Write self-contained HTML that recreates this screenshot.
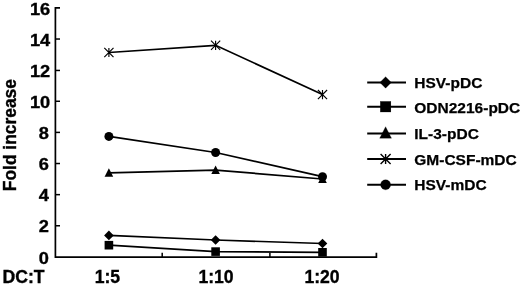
<!DOCTYPE html>
<html><head><meta charset="utf-8"><title>chart</title>
<style>html,body{margin:0;padding:0;background:#fff}body{width:520px;height:286px;position:relative;overflow:hidden}</style></head>
<body>
<svg width="520" height="286" viewBox="0 0 520 286" style="position:absolute;left:0;top:0">
<path d="M60.0,7.9H55.4V257.2H376.4V252.7" stroke="#000" stroke-width="1.7" fill="none" stroke-linejoin="miter"/>
<path d="M55.4,225.77h4.6" stroke="#000" stroke-width="1.5"/>
<path d="M55.4,194.65h4.6" stroke="#000" stroke-width="1.5"/>
<path d="M55.4,163.52h4.6" stroke="#000" stroke-width="1.5"/>
<path d="M55.4,132.40h4.6" stroke="#000" stroke-width="1.5"/>
<path d="M55.4,101.28h4.6" stroke="#000" stroke-width="1.5"/>
<path d="M55.4,70.45h4.6" stroke="#000" stroke-width="1.5"/>
<path d="M55.4,39.03h4.6" stroke="#000" stroke-width="1.5"/>
<path d="M162.2,257.2v-4.5" stroke="#000" stroke-width="1.5"/>
<path d="M269.9,257.2v-4.5" stroke="#000" stroke-width="1.5"/>
<polyline points="108.9,52.5 215.6,45.3 322.5,94.6" stroke="#000" stroke-width="1.7" fill="none"/>
<path d="M104.30000000000001,47.9L113.5,57.1M104.30000000000001,57.1L113.5,47.9M108.9,47.9L108.9,57.1" stroke="#000" stroke-width="1.15" fill="none"/>
<path d="M211.0,40.699999999999996L220.2,49.9M211.0,49.9L220.2,40.699999999999996M215.6,40.699999999999996L215.6,49.9" stroke="#000" stroke-width="1.15" fill="none"/>
<path d="M317.9,90.0L327.1,99.19999999999999M317.9,99.19999999999999L327.1,90.0M322.5,90.0L322.5,99.19999999999999" stroke="#000" stroke-width="1.15" fill="none"/>
<polyline points="108.9,136.4 215.6,152.5 322.5,176.7" stroke="#000" stroke-width="1.7" fill="none"/>
<circle cx="108.9" cy="136.4" r="4.5" fill="#000"/>
<circle cx="215.6" cy="152.5" r="4.5" fill="#000"/>
<circle cx="322.5" cy="176.7" r="4.5" fill="#000"/>
<polyline points="108.9,172.8 215.6,170.1 322.5,179.0" stroke="#000" stroke-width="1.7" fill="none"/>
<path d="M108.9,168.20000000000002L113.2,176.8L104.60000000000001,176.8Z" fill="#000"/>
<path d="M215.6,165.5L219.9,174.1L211.29999999999998,174.1Z" fill="#000"/>
<path d="M322.5,174.4L326.8,183.0L318.2,183.0Z" fill="#000"/>
<polyline points="108.9,235.4 215.6,240.0 322.5,243.5" stroke="#000" stroke-width="1.7" fill="none"/>
<path d="M108.9,230.6L113.7,235.4L108.9,240.20000000000002L104.10000000000001,235.4Z" fill="#000"/>
<path d="M215.6,235.2L220.4,240.0L215.6,244.8L210.79999999999998,240.0Z" fill="#000"/>
<path d="M322.5,238.7L327.3,243.5L322.5,248.3L317.7,243.5Z" fill="#000"/>
<polyline points="108.9,245.2 215.6,251.6 322.5,252.3" stroke="#000" stroke-width="1.7" fill="none"/>
<rect x="104.60000000000001" y="240.89999999999998" width="8.6" height="8.6" fill="#000"/>
<rect x="211.29999999999998" y="247.29999999999998" width="8.6" height="8.6" fill="#000"/>
<rect x="318.2" y="248.0" width="8.6" height="8.6" fill="#000"/>
<g font-family="Liberation Sans, Arial, sans-serif" font-weight="bold" font-size="17.6" fill="#000" stroke="#000" stroke-width="0.35">
<text transform="translate(49.0,263.60) scale(1.06,1)" text-anchor="end" font-size="17.2">0</text>
<text transform="translate(49.0,232.47) scale(1.06,1)" text-anchor="end" font-size="17.2">2</text>
<text transform="translate(49.0,201.35) scale(1.06,1)" text-anchor="end" font-size="17.2">4</text>
<text transform="translate(49.0,170.22) scale(1.06,1)" text-anchor="end" font-size="17.2">6</text>
<text transform="translate(49.0,139.10) scale(1.06,1)" text-anchor="end" font-size="17.2">8</text>
<text transform="translate(50.2,107.98) scale(1.06,1)" text-anchor="end" font-size="17.2">10</text>
<text transform="translate(50.2,77.45) scale(1.06,1)" text-anchor="end" font-size="17.2">12</text>
<text transform="translate(50.2,45.73) scale(1.06,1)" text-anchor="end" font-size="17.2">14</text>
<text transform="translate(50.2,14.60) scale(1.06,1)" text-anchor="end" font-size="17.2">16</text>
<text x="2.6" y="283.4">DC:T</text>
<text x="107.4" y="283.4" text-anchor="middle">1:5</text>
<text x="216" y="283.4" text-anchor="middle">1:10</text>
<text x="322" y="283.4" text-anchor="middle">1:20</text>
<text transform="translate(16.0,191.2) rotate(-90) scale(1,1.1)" font-size="17.4">Fold increase</text>
</g>
<g font-family="Liberation Sans, Arial, sans-serif" font-weight="bold" font-size="15.5" fill="#000" stroke="#000" stroke-width="0.25">
<path d="M367.2,82.45H406" stroke="#000" stroke-width="2"/>
<path d="M385.6,76.75L391.3,82.45L385.6,88.15L379.90000000000003,82.45Z" fill="#000"/>
<text x="414.3" y="88">HSV-pDC</text>
<path d="M367.2,106.7H406" stroke="#000" stroke-width="2"/>
<rect x="380.3" y="101.4" width="10.6" height="10.6" fill="#000"/>
<text x="414.3" y="113.4">ODN2216-pDC</text>
<path d="M367.2,133.6H406" stroke="#000" stroke-width="2"/>
<path d="M385.6,126.69999999999999L391.5,138.2L379.70000000000005,138.2Z" fill="#000"/>
<text x="414.3" y="139">IL-3-pDC</text>
<path d="M367.2,159.0H406" stroke="#000" stroke-width="2"/>
<path d="M380.6,154.0L390.6,164.0M380.6,164.0L390.6,154.0M385.6,154.0L385.6,164.0" stroke="#000" stroke-width="1.4" fill="none"/>
<text x="414.3" y="164.7">GM-CSF-mDC</text>
<path d="M367.2,184.8H406" stroke="#000" stroke-width="2"/>
<circle cx="385.6" cy="184.8" r="5.0" fill="#000"/>
<text x="414.3" y="190">HSV-mDC</text>
</g>
</svg>
</body></html>
